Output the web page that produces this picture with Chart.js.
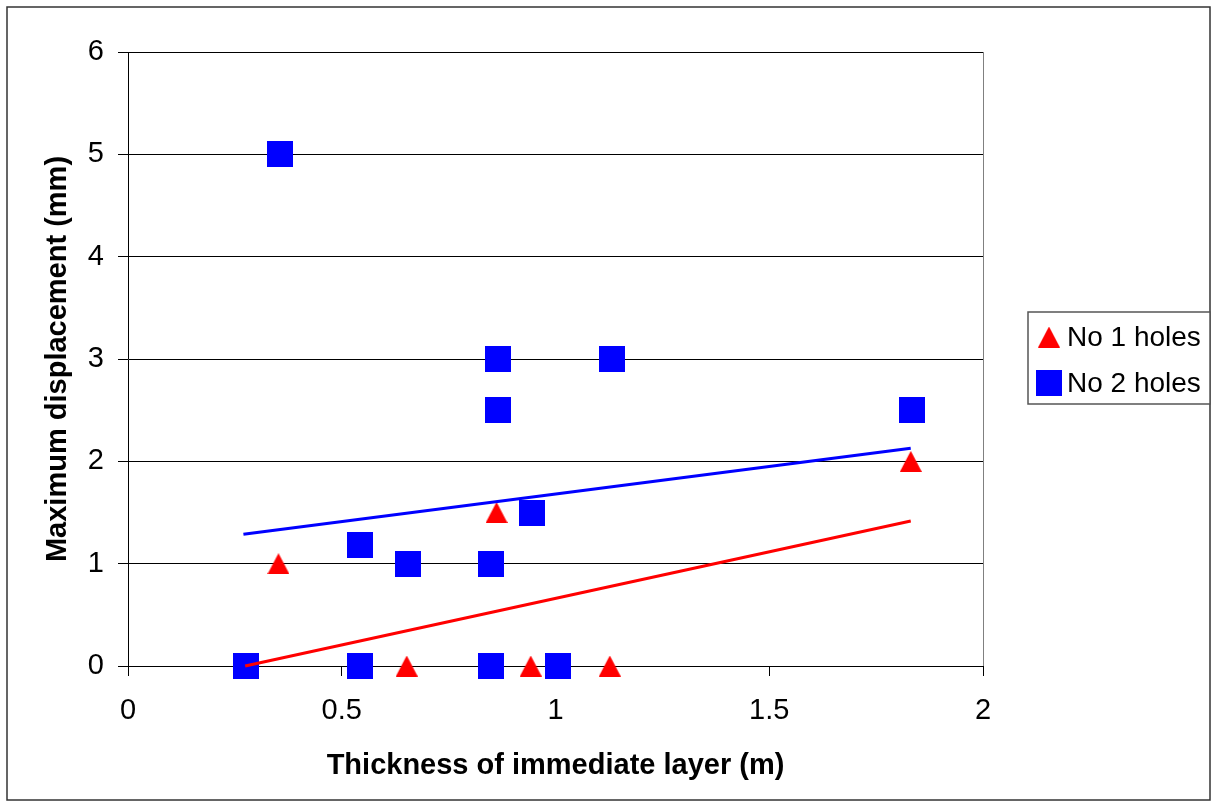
<!DOCTYPE html>
<html>
<head>
<meta charset="utf-8">
<script src="https://cdn.jsdelivr.net/npm/chart.js@4/dist/chart.umd.min.js"></script>
<style>
  html, body { margin: 0; padding: 0; background: #fff; }
  #wrap { width: 1216px; height: 807px; }
</style>
</head>
<body>
<div id="wrap"><canvas id="myChart"></canvas></div>
<script>
// data
let hole1X = [0.352, 0.652, 0.862, 0.942, 1.127, 1.831, 0.275, 0.543, 0.850, 1.006, 0.850];
let hole1Y = [1, 0, 1.5, 0, 0, 2, 0, 0, 0, 0, 1];
let hole2X = [0.355, 0.543, 0.655, 0.850, 0.866, 0.866, 0.944, 1.131, 1.834, 0.275, 0.543, 0.850, 1.006];
let hole2Y = [5, 1.18, 1, 1, 3, 2.5, 1.5, 3, 2.5, 0, 0, 0, 0];
// trendline end points
let trend1X = [0.274, 1.831];
let trend1Y = [0, 1.417];
let trend2X = [0.270, 1.831];
let trend2Y = [1.287, 2.127];
let labelsC = ["No 1 holes", "No 2 holes"];
let xTicks = [0, 0.5, 1, 1.5, 2];
let yTicks = [0, 1, 2, 3, 4, 5, 6];

let red = '#ff0000';
let blue = '#0000ff';
let fontFamily = "'Liberation Sans', Arial, sans-serif";

function pts(xs, ys) {
    return xs.map((x, i) => ({x: x, y: ys[i]}));
}

function triangle(w, h, color) {
    let c = document.createElement('canvas');
    c.width = w; c.height = h;
    let g = c.getContext('2d');
    g.fillStyle = color;
    g.beginPath();
    g.moveTo(w / 2, 0);
    g.lineTo(w, h);
    g.lineTo(0, h);
    g.closePath();
    g.fill();
    return c;
}

function square(s, color) {
    let c = document.createElement('canvas');
    c.width = s; c.height = s;
    let g = c.getContext('2d');
    g.fillStyle = color;
    g.fillRect(0, 0, s, s);
    return c;
}

let triMark = triangle(22, 21, red);
let sqMark = square(26, blue);

// white page, outer frame and the boxed legend
let framePlugin = {
    id: 'frame',
    beforeDraw(chart) {
        let c = chart.ctx;
        c.save();
        c.fillStyle = '#fff';
        c.fillRect(0, 0, chart.width, chart.height);
        c.strokeStyle = '#333';
        c.lineWidth = 1.5;
        c.strokeRect(7, 7, 1203, 793);
        c.restore();
    },
    afterDraw(chart) {
        let c = chart.ctx;
        c.save();
        c.fillStyle = '#fff';
        c.fillRect(1028, 312, 182, 92);
        c.strokeStyle = '#555';
        c.lineWidth = 1.5;
        c.strokeRect(1028, 312, 182, 92);
        let marks = [triMark, sqMark];
        let rowsY = [337, 383];
        c.font = '28px ' + fontFamily;
        c.fillStyle = '#000';
        c.textBaseline = 'middle';
        c.textAlign = 'left';
        for (let i = 0; i < labelsC.length; i++) {
            let m = marks[i];
            c.drawImage(m, 1049 - m.width / 2, rowsY[i] - m.height / 2);
            c.fillText(labelsC[i], 1067, rowsY[i] + 1);
        }
        c.restore();
    }
};

Chart.defaults.font.family = fontFamily;
Chart.defaults.color = '#000';

let ctx = document.getElementById('myChart').getContext('2d');
let myChart = new Chart(ctx, {
    type: 'scatter',
    data: {
        datasets: [
            {
                label: labelsC[0],
                data: pts(hole1X, hole1Y),
                pointStyle: triMark,
                clip: false,
                order: 4
            },
            {
                label: labelsC[1],
                data: pts(hole2X, hole2Y),
                pointStyle: sqMark,
                clip: false,
                order: 3
            },
            {
                label: 'trend 1',
                type: 'line',
                data: pts(trend1X, trend1Y),
                borderColor: red,
                borderWidth: 3,
                pointRadius: 0,
                fill: false,
                clip: false,
                order: 2
            },
            {
                label: 'trend 2',
                type: 'line',
                data: pts(trend2X, trend2Y),
                borderColor: blue,
                borderWidth: 3,
                pointRadius: 0,
                fill: false,
                clip: false,
                order: 1
            }
        ]
    },
    options: {
        responsive: true,
        maintainAspectRatio: false,
        animation: false,
        layout: { padding: { top: 52, right: 233, left: 0, bottom: 0 } },
        plugins: {
            legend: { display: false },
            tooltip: { enabled: false }
        },
        scales: {
            x: {
                type: 'linear',
                min: 0,
                max: 2,
                afterFit: s => { s.height = 141; },
                afterBuildTicks: s => { s.ticks = xTicks.map(v => ({value: v})); },
                ticks: { font: { size: 29 }, padding: 18, maxRotation: 0, callback: v => String(v) },
                grid: {
                    color: c => (c.tick && c.tick.value === 2) ? '#808080' : 'rgba(0,0,0,0)',
                    tickColor: '#000',
                    tickLength: 10,
                    lineWidth: 1
                },
                border: { color: '#000', width: 1 },
                title: {
                    display: true,
                    text: 'Thickness of immediate layer (m)',
                    font: { size: 29, weight: 'bold' },
                    padding: { top: 0, bottom: 24 }
                }
            },
            y: {
                min: 0,
                max: 6,
                afterFit: s => { s.width = 128; },
                afterBuildTicks: s => { s.ticks = yTicks.map(v => ({value: v})); },
                ticks: { font: { size: 29 }, padding: 14, callback: v => String(v) },
                grid: { color: '#000', tickColor: '#000', tickLength: 10, lineWidth: 1 },
                border: { color: '#000', width: 1 },
                title: {
                    display: true,
                    text: 'Maximum displacement (mm)',
                    font: { size: 29, weight: 'bold' },
                    padding: { top: 41, bottom: 0 }
                }
            }
        }
    },
    plugins: [framePlugin]
});
</script>
</body>
</html>
